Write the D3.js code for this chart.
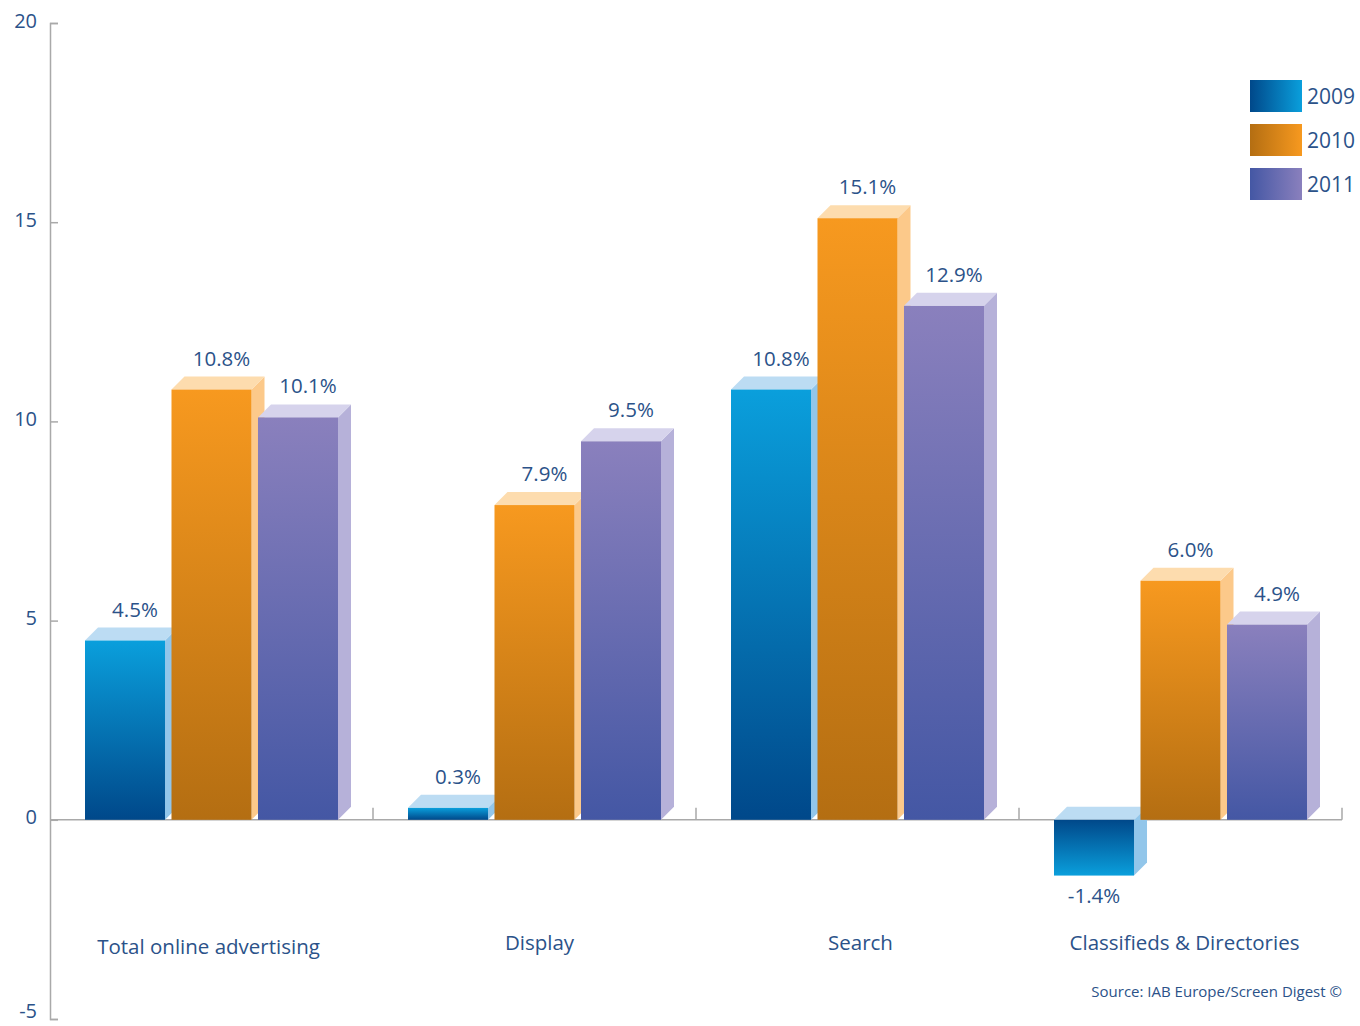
<!DOCTYPE html>
<html>
<head>
<meta charset="utf-8">
<script src="https://cdn.jsdelivr.net/npm/d3@7"></script>
<style>
  body { margin: 0; background: #fff; }
  text { font-family: "Open Sans", "DejaVu Sans", sans-serif; }
</style>
</head>
<body>
<svg id="chart" width="1360" height="1026"></svg>
<script>
var categories = ["Total online advertising", "Display", "Search", "Classifieds & Directories"];
var years = ["2009", "2010", "2011"];
var values2009 = [4.5, 0.3, 10.8, -1.4];
var values2010 = [10.8, 7.9, 15.1, 6.0];
var values2011 = [10.1, 9.5, 12.9, 4.9];
var yTicks = [-5, 0, 5, 10, 15, 20];

var series = [values2009, values2010, values2011];
var palette = {
  "2009": { light: "#0a9fdc", dark: "#00488a", side: "#92c6ea", top: "#bcdcf3" },
  "2010": { light: "#f7991f", dark: "#b46e12", side: "#fcc98a", top: "#fddcae" },
  "2011": { light: "#8a80bd", dark: "#4457a4", side: "#b6b1d9", top: "#d6d3ec" }
};
var textColor = "#2b5289";
var depth = 13;

var svg = d3.select("#chart");
var defs = svg.append("defs");

years.forEach(function(yr) {
  var c = palette[yr];
  // up: dark at the baseline, light at the top
  var up = defs.append("linearGradient").attr("id", "up" + yr).attr("x1", 0).attr("y1", 1).attr("x2", 0).attr("y2", 0);
  up.append("stop").attr("offset", "0%").attr("stop-color", c.dark);
  up.append("stop").attr("offset", "100%").attr("stop-color", c.light);
  var down = defs.append("linearGradient").attr("id", "down" + yr).attr("x1", 0).attr("y1", 0).attr("x2", 0).attr("y2", 1);
  down.append("stop").attr("offset", "0%").attr("stop-color", c.dark);
  down.append("stop").attr("offset", "100%").attr("stop-color", c.light);
  var leg = defs.append("linearGradient").attr("id", "leg" + yr).attr("x1", 0).attr("y1", 0).attr("x2", 1).attr("y2", 0);
  leg.append("stop").attr("offset", "0%").attr("stop-color", c.dark);
  leg.append("stop").attr("offset", "100%").attr("stop-color", c.light);
});

var y = d3.scaleLinear().domain([-5, 20]).range([1019, 23]);
var x0 = d3.scaleBand().domain(categories).range([50, 1342]);
var x1 = d3.scaleBand().domain(years).range([35, 288]).paddingInner(0.075);

// y axis, ticks pointing inward
var yAxis = d3.axisLeft(y).tickValues(yTicks).tickSizeInner(-8).tickSizeOuter(-8).tickPadding(13)
  .tickFormat(function(d) { return String(d); });
var gy = svg.append("g").attr("transform", "translate(50,0)").call(yAxis);
gy.selectAll("path, line").attr("stroke", "#a9a9a9").attr("stroke-width", 1.5);
gy.selectAll("text").attr("fill", textColor)
  .attr("dy", function(d) { return d === -5 ? "-0.1em" : "0.2em"; })
  .style("font-size", "20px").style("font-family", "'Open Sans', sans-serif");

// x baseline with group separators
svg.append("line").attr("x1", 50).attr("x2", 1342).attr("y1", y(0)).attr("y2", y(0))
  .attr("stroke", "#a9a9a9").attr("stroke-width", 1.5);
svg.selectAll(".sep").data(categories).enter().append("line")
  .attr("class", "sep")
  .attr("x1", function(d) { return x0(d) + x0.bandwidth(); })
  .attr("x2", function(d) { return x0(d) + x0.bandwidth(); })
  .attr("y1", y(0)).attr("y2", y(0) - 12)
  .attr("stroke", "#a9a9a9").attr("stroke-width", 1.5);

// bars
var bars = [];
categories.forEach(function(cat, i) {
  years.forEach(function(yr, j) {
    bars.push({ cat: cat, year: yr, value: series[j][i] });
  });
});

var g = svg.append("g");
bars.forEach(function(d) {
  var xa = x0(d.cat) + x1(d.year), xb = xa + x1.bandwidth();
  var yTop = Math.min(y(d.value), y(0)), yBot = Math.max(y(d.value), y(0));
  var c = palette[d.year];
  var b = g.append("g");
  // side face
  b.append("path")
    .attr("d", "M" + xb + "," + yTop + "L" + (xb + depth) + "," + (yTop - depth) +
      "L" + (xb + depth) + "," + (yBot - depth) + "L" + xb + "," + yBot + "Z")
    .attr("fill", c.side);
  // top face
  b.append("path")
    .attr("d", "M" + xa + "," + yTop + "L" + xb + "," + yTop + "L" + (xb + depth) + "," + (yTop - depth) +
      "L" + (xa + depth) + "," + (yTop - depth) + "Z")
    .attr("fill", c.top);
  // front face
  b.append("rect")
    .attr("x", xa).attr("y", yTop)
    .attr("width", x1.bandwidth()).attr("height", yBot - yTop)
    .attr("fill", d.value >= 0 ? "url(#up" + d.year + ")" : "url(#down" + d.year + ")");
  // value label
  b.append("text")
    .attr("x", d.value >= 0 ? (xa + xb) / 2 + 10 : (xa + xb) / 2)
    .attr("y", d.value >= 0 ? yTop - depth - 11 : yBot + 27)
    .attr("text-anchor", "middle")
    .attr("fill", textColor)
    .style("font-size", "20.5px")
    .text(d.value.toFixed(1) + "%");
});

// category labels
var catShift = [-3, 5, 3, 4];
svg.selectAll(".cat").data(categories).enter().append("text")
  .attr("class", "cat")
  .attr("x", function(d, i) { return x0(d) + x0.bandwidth() / 2 + catShift[i]; })
  .attr("y", function(d, i) { return i === 0 ? 954 : 950; })
  .attr("text-anchor", "middle")
  .attr("fill", textColor)
  .style("font-size", "20.5px")
  .text(function(d) { return d; });

// legend
var legend = svg.selectAll(".leg").data(years).enter().append("g")
  .attr("class", "leg")
  .attr("transform", function(d, i) { return "translate(1250," + (80 + i * 44) + ")"; });
legend.append("rect").attr("width", 52).attr("height", 32)
  .attr("fill", function(d) { return "url(#leg" + d + ")"; });
legend.append("text").attr("x", 57).attr("y", 24)
  .attr("fill", textColor).style("font-size", "21px")
  .text(function(d) { return d; });

// source
svg.append("text").attr("x", 1342).attr("y", 997).attr("text-anchor", "end")
  .attr("fill", textColor).style("font-size", "15px")
  .text("Source: IAB Europe/Screen Digest \u00a9");
</script>
</body>
</html>
